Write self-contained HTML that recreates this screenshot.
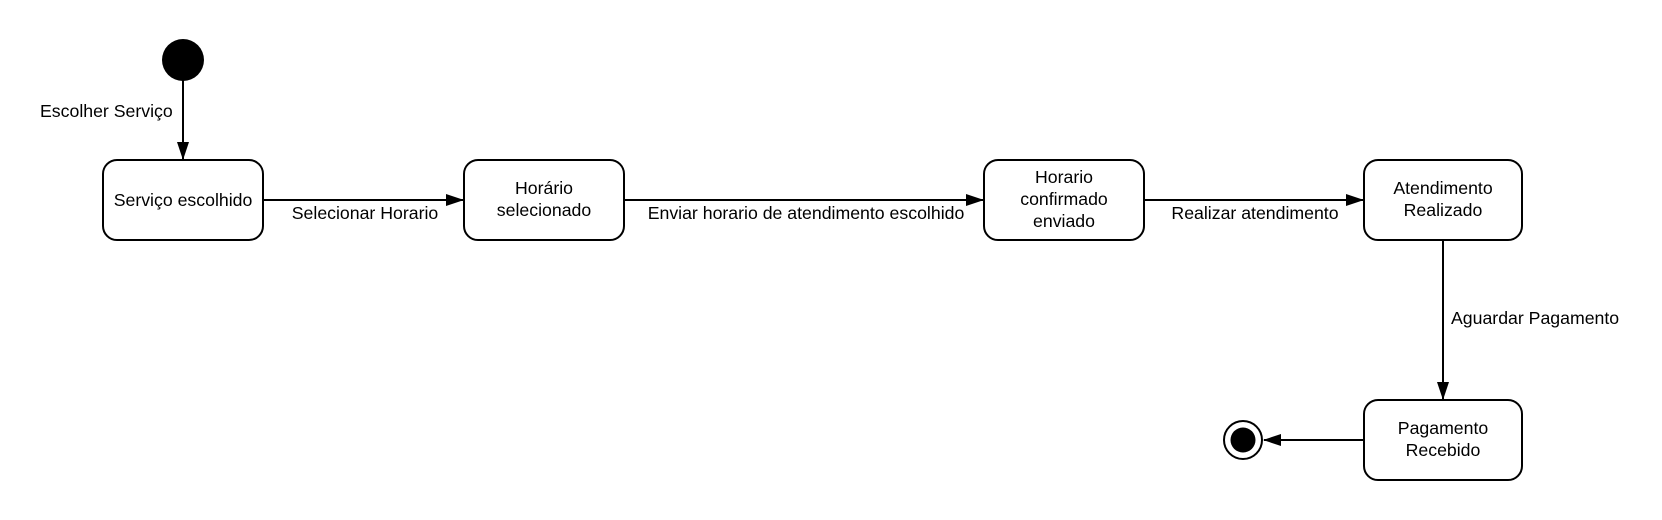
<!DOCTYPE html>
<html><head><meta charset="utf-8"><style>
html,body{margin:0;padding:0;background:#fff;}
svg{display:block;}
text{font-family:"Liberation Sans",sans-serif;font-size:17.7px;fill:#000;}
</style></head><body>
<svg width="1662" height="520" viewBox="0 0 1662 520" xmlns="http://www.w3.org/2000/svg">
<defs><marker id="a" markerWidth="18" markerHeight="12" refX="17" refY="6" orient="auto" markerUnits="userSpaceOnUse"><path d="M0,0 L18,6 L0,12 Z" fill="#000"/></marker></defs>
<g stroke="#000" stroke-width="2" fill="#fff">
<rect x="103" y="160" width="160" height="80" rx="14"/>
<rect x="464" y="160" width="160" height="80" rx="14"/>
<rect x="984" y="160" width="160" height="80" rx="14"/>
<rect x="1364" y="160" width="158" height="80" rx="14"/>
<rect x="1364" y="400" width="158" height="80" rx="14"/>
<line x1="183" y1="80" x2="183" y2="159" marker-end="url(#a)"/>
<line x1="263" y1="200" x2="463" y2="200" marker-end="url(#a)"/>
<line x1="624" y1="200" x2="983" y2="200" marker-end="url(#a)"/>
<line x1="1144" y1="200" x2="1363" y2="200" marker-end="url(#a)"/>
<line x1="1443" y1="240" x2="1443" y2="399" marker-end="url(#a)"/>
<line x1="1364" y1="440" x2="1264" y2="440" marker-end="url(#a)"/>
<circle cx="1243" cy="440" r="19"/>
</g>
<circle cx="183" cy="60" r="21" fill="#000"/>
<circle cx="1243" cy="440" r="12.5" fill="#000"/>
<g text-anchor="middle">
<text x="183" y="206">Serviço escolhido</text>
<text x="544" y="194">Horário</text>
<text x="544" y="216">selecionado</text>
<text x="1064" y="183">Horario</text>
<text x="1064" y="205">confirmado</text>
<text x="1064" y="227">enviado</text>
<text x="1443" y="194">Atendimento</text>
<text x="1443" y="216">Realizado</text>
<text x="1443" y="434">Pagamento</text>
<text x="1443" y="456">Recebido</text>
<text x="365" y="219">Selecionar Horario</text>
<text x="806" y="219">Enviar horario de atendimento escolhido</text>
<text x="1255" y="219">Realizar atendimento</text>
</g>
<text x="40" y="117">Escolher Serviço</text>
<text x="1451" y="324">Aguardar Pagamento</text>
</svg>
</body></html>
